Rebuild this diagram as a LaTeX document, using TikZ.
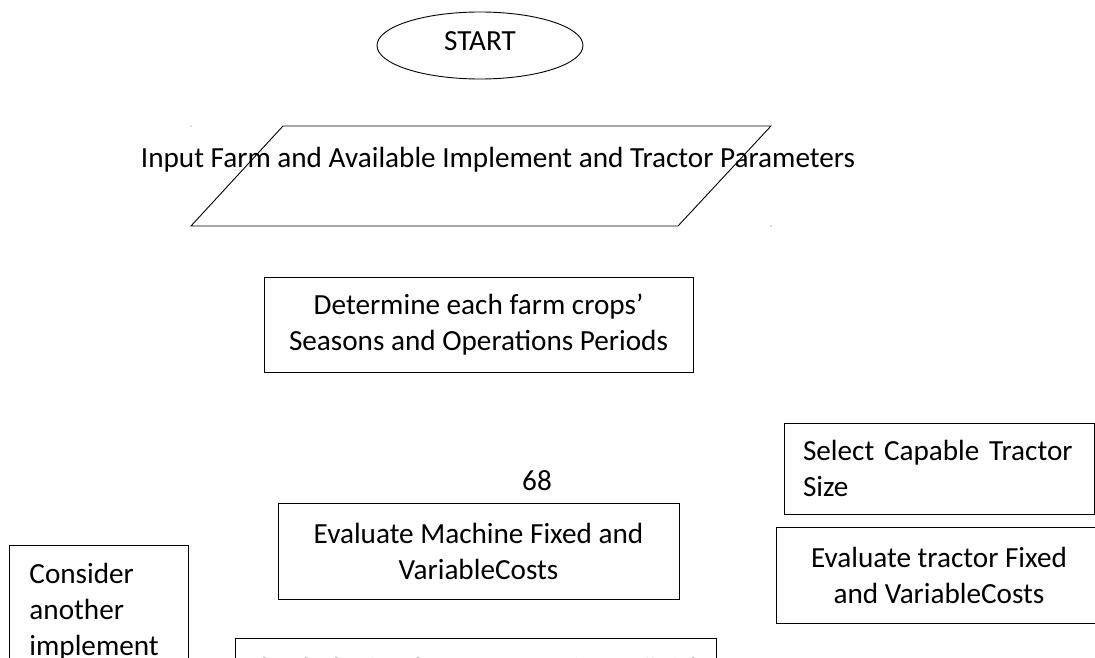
\documentclass[tikz,border=0pt]{standalone}
\usepackage{fontspec}
\setmainfont{Carlito}
\usetikzlibrary{positioning, shapes.geometric}

\begin{document}
\begin{tikzpicture}[x=1pt, y=1pt, node distance=30pt, line width=0.9pt,
        font=\fontsize{29.2}{36}\selectfont,
        process/.style={rectangle, draw, align=center, inner sep=0pt},
        terminal/.style={ellipse, draw, minimum width=206pt, minimum height=67pt, inner sep=0pt}]
        \useasboundingbox (0,0) rectangle (1095,657);

        %-----Main Column-----

        % Start Terminal
        \node[terminal, text depth=8pt] (start) at (480,611.5) {START};

        % Input Parallelogram
        \coordinate (inTL) at (283,531);
        \coordinate (inTR) at (771,531);
        \coordinate (inBR) at (678,431);
        \coordinate (inBL) at (191,431);
        \draw (inTL) -- (inTR) -- (inBR) -- (inBL) -- cycle;
        \node[anchor=base] (input) at (498,489) {Input Farm and Available Implement and Tractor Parameters};

        % corner marks of the input box
        \fill[gray] (inBL |- inTL) circle (0.7pt);
        \fill[gray] (inTR |- inBR) circle (0.7pt);

        % Seasons and Periods Box
        \node[process, minimum width=429pt, minimum height=95pt] (periods) at (478.5,332.5) {Determine each farm crops’\\Seasons and Operations Periods};

        % Page Number
        \node[anchor=base] (pagenum) at (537,167) {68};

        % Machine Costs Box
        \node[process, minimum width=401pt, minimum height=96pt, below=131pt of periods] (mcost) {Evaluate Machine Fixed and\\VariableCosts};

        % Next Step Box (runs off the page)
        \node[process, minimum width=481pt, minimum height=99pt, below=38pt of mcost, xshift=-3pt] (nextstep) {Check the implement capacity to finish\\the operation within the period};

        %-----Side Boxes-----

        % Consider Implement Box
        \node[process, anchor=north west, text width=139pt, align=left, inner xsep=20pt, inner ysep=18pt] (consider) at (9,112) {Consider\\another\\implement\\\mbox{}};

        % Tractor Size Box
        \node[process, minimum width=310pt, minimum height=91pt, text width=272pt, align=left, inner xsep=19pt] (tsize) at (939,188.5) {Select Capable Tractor\\Size};

        % Tractor Costs Box
        \node[process, minimum width=326pt, minimum height=96pt] (tcost) at (939,82) {Evaluate tractor Fixed\\and VariableCosts};

\end{tikzpicture}
\end{document}
